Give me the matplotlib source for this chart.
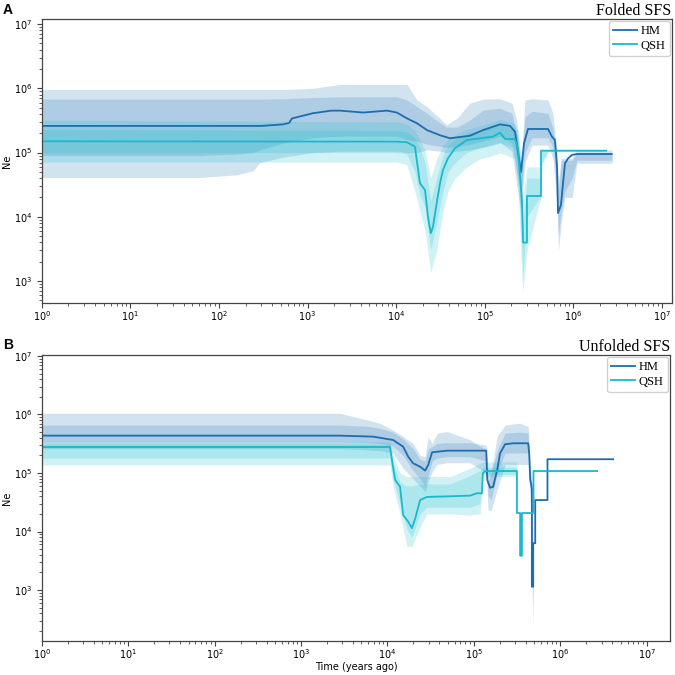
import matplotlib
matplotlib.use('Agg')
import matplotlib.pyplot as plt
import numpy as np

# === Panel A: Folded SFS ===
a_hm_t = [1, 300, 530, 620, 668, 1150, 1860, 2330, 4240, 7900, 1.02e4, 1.33e4, 1.72e4, 2.23e4,
          3.13e4, 4.06e4, 6.82e4, 9.57e4, 1.49e5, 1.93e5, 2.2e5, 2.38e5, 2.57e5, 2.78e5, 3.08e5,
          3.51e5, 5.18e5, 5.74e5, 6.21e5, 6.55e5, 6.72e5, 7.26e5, 7.65e5, 8.06e5, 8.71e5, 9.68e5,
          1.10e6, 2.71e6]
a_hm_ne = [2.6e5, 2.6e5, 2.75e5, 2.9e5, 3.4e5, 4.1e5, 4.5e5, 4.5e5, 4.2e5, 4.5e5, 4.2e5, 3.4e5, 2.86e5,
           2.24e5, 1.86e5, 1.67e5, 1.83e5, 2.24e5, 2.75e5, 2.6e5, 2.11e5, 9.9e4, 5.0e4, 1.4e5, 2.33e5,
           2.33e5, 2.33e5, 1.77e5, 1.57e5, 6.0e4, 1.14e4, 1.53e4, 3.33e4, 6.8e4, 8.1e4, 9.2e4,
           9.5e4, 9.5e4]

a_qsh_t = [1, 1.02e4, 1.32e4, 1.63e4, 1.86e4, 2.12e4, 2.29e4, 2.46e4, 2.61e4, 2.87e4, 3.13e4, 3.38e4,
           3.85e4, 4.62e4, 6.31e4, 8.85e4, 1.24e5, 1.49e5, 1.7e5, 2.2e5, 2.38e5, 2.64e5, 2.71e5,
           3.0e5, 3.0e5, 4.32e5, 4.32e5, 2.35e6]
a_qsh_ne = [1.5e5, 1.48e5, 1.45e5, 1.24e5, 3.33e4, 2.62e4, 1.0e4, 5.56e3, 7.05e3, 1.63e4, 3.33e4, 5.36e4,
            8.15e4, 1.17e5, 1.57e5, 1.67e5, 1.77e5, 2.04e5, 1.63e5, 1.63e5, 1.1e5, 1.63e4, 3.97e3,
            3.97e3, 2.11e4, 2.11e4, 1.07e5, 1.07e5]

a_hm_band_t = [1, 61, 160, 243, 290, 530, 1150, 2330, 1.02e4, 1.33e4, 1.72e4, 2.23e4, 3.13e4, 3.7e4,
               4.9e4, 6.8e4, 9.6e4, 1.49e5, 2.03e5, 2.3e5, 2.57e5, 2.85e5, 3.42e5, 5.18e5, 5.9e5,
               6.55e5, 6.8e5, 7.3e5, 8.06e5, 9.7e5, 1.1e6, 2.74e6]
a_hm_hi95 = [9.6e5, 9.6e5, 9.6e5, 9.6e5, 9.6e5, 9.6e5, 1.0e6, 1.15e6, 1.15e6, 1.15e6, 6.6e5, 5.2e5,
             3.4e5, 2.7e5, 3.45e5, 5.9e5, 6.8e5, 6.9e5, 5.9e5, 3.2e5, 6.9e4, 6.6e5, 6.9e5, 6.6e5,
             4.1e5, 9.8e4, 3.5e4, 8.1e4, 8.1e4, 8.1e4, 1.1e5, 1.1e5]
a_hm_hi75 = [6.8e5, 6.8e5, 6.8e5, 6.8e5, 6.8e5, 6.9e5, 7.2e5, 7.4e5, 7.4e5, 6.6e5, 5.2e5, 4.1e5,
             2.9e5, 2.5e5, 2.5e5, 3.2e5, 4.6e5, 4.9e5, 4.1e5, 1.8e5, 6.0e4, 3.6e5, 4.4e5, 4.1e5,
             2.4e5, 6.8e4, 2.5e4, 7.6e4, 7.6e4, 7.6e4, 1.0e5, 1.0e5]
a_hm_lo75 = [9.0e4, 9.0e4, 9.5e4, 1.0e5, 1.1e5, 1.4e5, 1.7e5, 1.8e5, 1.8e5, 1.6e5, 1.5e5, 1.35e5,
             1.25e5, 1.2e5, 1.25e5, 1.35e5, 1.5e5, 1.8e5, 1.4e5, 5.0e4, 2.5e4, 1.0e5, 1.7e5, 1.7e5,
             1.2e5, 2.5e4, 5.0e3, 1.2e4, 2.5e4, 4.0e4, 7.6e4, 7.6e4]
a_hm_lo95 = [4.1e4, 4.1e4, 4.5e4, 5.2e4, 7.0e4, 8.5e4, 1.0e5, 1.05e5, 1.05e5, 1.0e5, 1.0e5, 1.1e5,
             1.05e5, 1.0e5, 1.05e5, 1.1e5, 1.2e5, 1.45e5, 1.05e5, 3.0e4, 1.2e4, 7.0e4, 1.3e5, 1.3e5,
             8.0e4, 1.5e4, 2.9e3, 8.0e3, 2.0e4, 2.0e4, 6.8e4, 6.8e4]

a_qsh_band_t = [1, 1.02e4, 1.32e4, 1.63e4, 1.86e4, 2.12e4, 2.46e4, 2.87e4, 3.38e4, 3.85e4, 4.62e4,
                6.31e4, 8.85e4, 1.24e5, 1.49e5, 2.2e5, 2.38e5, 2.64e5, 2.71e5, 3.0e5, 4.32e5, 4.4e5,
                5.2e5, 2.35e6]
a_qsh_hi95 = [3.2e5, 3.0e5, 2.8e5, 2.2e5, 1.6e5, 1.1e5, 4.0e4, 8.0e4, 1.3e5, 1.6e5, 1.9e5, 2.3e5,
              2.6e5, 3.0e5, 3.3e5, 2.8e5, 2.2e5, 6.0e4, 2.0e4, 6.0e4, 6.0e4, 1.1e5, 1.1e5, 1.07e5]
a_qsh_hi75 = [2.3e5, 2.2e5, 2.1e5, 1.7e5, 1.2e5, 7.0e4, 1.8e4, 4.0e4, 9.0e4, 1.3e5, 1.6e5, 2.0e5,
              2.2e5, 2.5e5, 2.8e5, 2.2e5, 1.6e5, 2.0e4, 8.0e3, 4.0e4, 4.0e4, 1.08e5, 1.08e5, 1.07e5]
a_qsh_lo75 = [1.0e5, 1.0e5, 9.5e4, 5.0e4, 2.2e4, 1.4e4, 3.0e3, 8.0e3, 2.5e4, 5.0e4, 7.0e4, 1.0e5,
              1.2e5, 1.3e5, 1.4e5, 1.2e5, 6.0e4, 2.5e3, 1.2e3, 1.0e4, 2.1e4, 7.0e4, 1.05e5, 1.07e5]
a_qsh_lo95 = [7.1e4, 7.1e4, 6.5e4, 2.5e4, 1.2e4, 6.0e3, 1.35e3, 3.0e3, 1.2e4, 2.5e4, 4.0e4, 6.0e4,
              8.0e4, 9.0e4, 1.0e5, 8.0e4, 3.0e4, 1.0e3, 6.9e2, 3.0e3, 2.0e4, 6.0e4, 1.05e5, 1.07e5]

# === Panel B: Unfolded SFS ===
b_hm_t = [1, 2830, 6830, 1.16e4, 1.52e4, 1.74e4, 1.98e4, 2.39e4, 2.73e4, 2.96e4, 3.29e4, 4.91e4,
          1.39e5, 1.43e5, 1.54e5, 1.67e5, 1.86e5, 2.01e5, 2.3e5, 2.85e5, 4.25e5, 4.37e5, 4.49e5,
          4.69e5, 4.69e5, 4.86e5, 4.86e5, 5.13e5, 5.13e5, 7.11e5, 7.11e5, 4.09e6]
b_hm_ne = [4.35e5, 4.35e5, 4.18e5, 3.67e5, 2.82e5, 1.9e5, 1.47e5, 1.28e5, 1.1e5, 1.37e5, 2.26e5, 2.41e5,
           2.41e5, 7.6e4, 5.6e4, 5.8e4, 1.12e5, 2.17e5, 3.1e5, 3.22e5, 3.22e5, 2.17e5, 7.6e4,
           5.5e4, 1.14e3, 1.14e3, 6.3e3, 6.3e3, 3.45e4, 3.45e4, 1.72e5, 1.72e5]

b_qsh_t = [1, 1.07e4, 1.16e4, 1.23e4, 1.4e4, 1.52e4, 1.74e4, 1.92e4, 2.1e4, 2.39e4, 2.86e4, 5.32e4,
           9.06e4, 1.08e5, 1.24e5, 1.27e5, 1.35e5, 3.15e5, 3.15e5, 3.43e5, 3.43e5, 3.6e5, 3.6e5,
           4.9e5, 4.9e5, 2.67e6]
b_qsh_ne = [2.78e5, 2.78e5, 1.28e5, 7.6e4, 5.8e4, 1.91e4, 1.47e4, 1.14e4, 1.68e4, 3.45e4, 3.9e4, 4.0e4,
            4.1e4, 4.5e4, 4.5e4, 9.9e4, 1.08e5, 1.08e5, 2.07e4, 2.07e4, 3.86e3, 3.86e3, 2.07e4,
            2.07e4, 1.08e5, 1.08e5]

b_hm_band_t = [1, 2830, 5820, 8200, 1.16e4, 1.52e4, 1.98e4, 2.39e4, 2.73e4, 2.96e4, 3.29e4, 3.76e4,
               4.91e4, 9.06e4, 1.39e5, 1.46e5, 1.59e5, 1.86e5, 2.3e5, 3.43e5, 4.25e5, 4.49e5,
               4.73e5, 4.86e5]
b_hm_hi95 = [1.05e6, 1.05e6, 8.1e5, 7.1e5, 5.4e5, 4.2e5, 3.2e5, 2.0e5, 1.9e5, 4.2e5, 3.2e5, 4.8e5,
             5.1e5, 3.7e5, 2.5e5, 7.0e4, 1.1e5, 4.2e5, 6.6e5, 7.1e5, 6.2e5, 1.3e5, 6.6e4, 4.0e3]
b_hm_hi75 = [6.6e5, 6.6e5, 6.3e5, 5.8e5, 5.0e5, 3.8e5, 2.6e5, 1.7e5, 1.6e5, 2.6e5, 2.8e5, 3.2e5,
             3.3e5, 3.3e5, 3.0e5, 1.2e5, 1.0e5, 2.4e5, 4.8e5, 5.0e5, 4.8e5, 1.0e5, 6.0e4, 2.5e3]
b_hm_lo75 = [3.4e5, 3.4e5, 3.3e5, 3.2e5, 2.9e5, 2.0e5, 1.1e5, 8.0e4, 6.0e4, 9.0e4, 1.6e5, 1.8e5,
             1.9e5, 1.9e5, 1.6e5, 4.0e4, 3.5e4, 1.0e5, 2.2e5, 2.2e5, 2.2e5, 5.0e4, 3.0e3, 5.0e2]
b_hm_lo95 = [2.6e5, 2.6e5, 2.5e5, 2.4e5, 2.2e5, 1.2e5, 8.0e4, 6.0e4, 4.8e4, 7.0e4, 1.05e5, 1.4e5,
             1.5e5, 1.5e5, 1.0e5, 2.3e4, 2.3e4, 5.2e4, 1.4e5, 1.4e5, 1.4e5, 3.5e4, 1.0e3, 2.2e2]

b_qsh_band_t = [1, 1.07e4, 1.16e4, 1.4e4, 1.68e4, 1.92e4, 2.39e4, 2.86e4, 5.32e4, 9.06e4, 1.18e5,
                1.28e5, 1.35e5, 3.15e5]
b_qsh_hi95 = [3.4e5, 3.4e5, 2.0e5, 1.0e5, 8.7e4, 8.7e4, 8.7e4, 8.7e4, 8.7e4, 1.2e5, 1.47e5, 1.55e5,
              1.55e5, 1.55e5]
b_qsh_hi75 = [3.1e5, 3.1e5, 1.5e5, 7.0e4, 6.0e4, 6.0e4, 6.5e4, 6.5e4, 6.5e4, 9.0e4, 1.1e5, 1.25e5,
              1.25e5, 1.25e5]
b_qsh_lo75 = [1.8e5, 1.8e5, 8.0e4, 3.0e4, 1.1e4, 8.0e3, 2.0e4, 2.6e4, 2.6e4, 2.6e4, 3.0e4, 9.5e4,
              9.5e4, 9.5e4]
b_qsh_lo95 = [1.37e5, 1.37e5, 6.0e4, 2.0e4, 5.5e3, 5.5e3, 1.2e4, 2.0e4, 2.0e4, 1.9e4, 2.0e4, 8.7e4,
              8.7e4, 8.7e4]

hm_farbe = '#1c6db0'
qsh_farbe = '#1bb8cc'
band_hm = '#1f77b4'
band_qsh = '#17becf'


def panel_zeichnen(ax, hm, qsh, hm_band, qsh_band):
    # Baender zuerst (95% aussen, 75% innen), dann die Linien
    for band, farbe in ((hm_band, band_hm), (qsh_band, band_qsh)):
        t, hi95, hi75, lo75, lo95 = band
        ax.fill_between(t, lo95, hi95, color=farbe, alpha=0.2, lw=0)
        ax.fill_between(t, lo75, hi75, color=farbe, alpha=0.2, lw=0)
    ax.plot(hm[0], hm[1], color=hm_farbe, lw=1.3, label='HM')
    ax.plot(qsh[0], qsh[1], color=qsh_farbe, lw=1.3, label='QSH')
    ax.set_xscale('log')
    ax.set_yscale('log')
    ax.set_ylabel('Ne', fontsize=7)
    ax.yaxis.set_label_coords(-0.047, 0.5)
    ax.tick_params(labelsize=7, length=3.5, width=0.8, color='#444444')
    ax.tick_params(axis='x', pad=1.0)
    ax.tick_params(which='minor', length=2, width=0.6, color='#444444')
    for sp in ax.spines.values():
        sp.set_color('#444444')
        sp.set_linewidth(0.9)
    ax.legend(loc='upper right', prop={'family': 'Liberation Serif', 'size': 9},
              handlelength=1.9, handletextpad=0.3, borderpad=0.35, labelspacing=0.2,
              borderaxespad=0.15, fancybox=True, framealpha=0.9, edgecolor='#cccccc')


fig = plt.figure(figsize=(6.75, 6.75), dpi=100)

ax_a = fig.add_axes([0.0618, 0.5511, 0.9333, 0.4207])
panel_zeichnen(ax_a, (a_hm_t, a_hm_ne), (a_qsh_t, a_qsh_ne),
               (a_hm_band_t, a_hm_hi95, a_hm_hi75, a_hm_lo75, a_hm_lo95),
               (a_qsh_band_t, a_qsh_hi95, a_qsh_hi75, a_qsh_lo75, a_qsh_lo95))
ax_a.set_xlim(1, 1.29e7)
ax_a.set_ylim(455, 1.2e7)
ax_a.set_title('Folded SFS', loc='right', fontfamily='Liberation Serif', fontsize=11.5, pad=2)

ax_b = fig.add_axes([0.0618, 0.0508, 0.9308, 0.4233])
panel_zeichnen(ax_b, (b_hm_t, b_hm_ne), (b_qsh_t, b_qsh_ne),
               (b_hm_band_t, b_hm_hi95, b_hm_hi75, b_hm_lo75, b_hm_lo95),
               (b_qsh_band_t, b_qsh_hi95, b_qsh_hi75, b_qsh_lo75, b_qsh_lo95))
ax_b.set_xlim(1, 1.86e7)
ax_b.set_ylim(136, 1.04e7)
ax_b.set_title('Unfolded SFS', loc='right', fontfamily='Liberation Serif', fontsize=11.5, pad=2)
ax_b.set_xlabel('Time (years ago)', fontsize=7)
ax_b.xaxis.set_label_coords(0.5, -0.076)

fig.text(0.004, 0.996, 'A', fontsize=10, fontweight='bold', family='Liberation Sans', va='top')
fig.text(0.004, 0.499, 'B', fontsize=10, fontweight='bold', family='Liberation Sans', va='top')

plt.savefig('out.png', dpi=100)
plt.close()
